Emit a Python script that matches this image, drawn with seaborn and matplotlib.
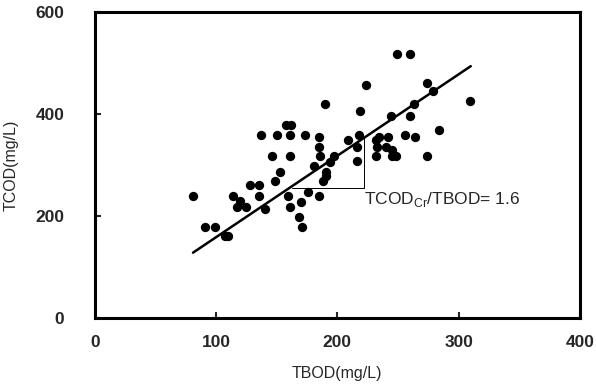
import numpy as np
import pandas as pd
import seaborn as sns
import matplotlib.pyplot as plt

# valori
tbod = [81, 91, 99, 107, 110, 114, 117, 120, 125, 128, 135, 135, 137, 140, 146, 149,
        150, 153, 158, 162, 161, 161, 159, 161, 168, 170, 171, 173, 176, 181, 185, 185,
        185, 186, 190, 188, 191, 191, 194, 197, 209, 216, 216, 218, 219, 224, 232, 232,
        233, 234, 240, 242, 244, 245, 245, 248, 249, 256, 260, 260, 263, 264, 274, 274,
        279, 284, 309]
tcod = [240, 178, 178, 160, 160, 239, 217, 230, 217, 260, 260, 239, 358, 214, 317, 268,
        358, 287, 379, 379, 358, 317, 239, 217, 199, 227, 178, 358, 248, 299, 355, 336,
        239, 317, 419, 268, 279, 287, 306, 317, 350, 336, 307, 358, 407, 458, 317, 350,
        336, 355, 336, 355, 397, 329, 317, 317, 518, 358, 518, 397, 419, 355, 317, 461,
        446, 369, 425]

# retta di regressione (estremi)
fit_x = [81, 310]
fit_y = [128, 494]

# triangolo della pendenza
tri_x = [163, 222, 222]
tri_y = [255, 255, 355]

df = pd.DataFrame({"TBOD": tbod, "TCOD": tcod})

sns.set_style("ticks")
plt.rcParams['font.family'] = ['Liberation Sans', 'DejaVu Sans']

fig = plt.figure(figsize=(5.96, 3.92), dpi=100)
ax = fig.add_axes([0.159, 0.189, 0.814, 0.780])

sns.scatterplot(data=df, x="TBOD", y="TCOD", color="black", s=45, edgecolor="black",
                linewidth=0, ax=ax, zorder=3)
ax.plot(fit_x, fit_y, color="black", lw=1.8, zorder=2)
ax.plot(tri_x, tri_y, color="black", lw=0.7, zorder=1)

ax.text(222, 232, "TCOD$_{\\mathregular{Cr}}$/TBOD= 1.6", fontsize=12.5, va="center", ha="left")

ax.set_xlim(0, 400)
ax.set_ylim(0, 600)
ax.set_xticks([0, 100, 200, 300, 400])
ax.set_yticks([0, 200, 400, 600])
ax.tick_params(direction="in", length=4, width=1.5, labelsize=12.5)
ax.tick_params(axis="x", pad=12)
ax.tick_params(axis="y", pad=22)
for lab in ax.get_xticklabels() + ax.get_yticklabels():
    lab.set_fontweight("bold")
for s in ax.spines.values():
    s.set_visible(True)
    s.set_linewidth(2.2)
    s.set_color("black")

ax.set_xlabel("TBOD(mg/L)", fontsize=11.5, labelpad=12)
ax.set_ylabel("TCOD(mg/L)", fontsize=11.5, labelpad=12)

plt.savefig("out.png", dpi=100)
